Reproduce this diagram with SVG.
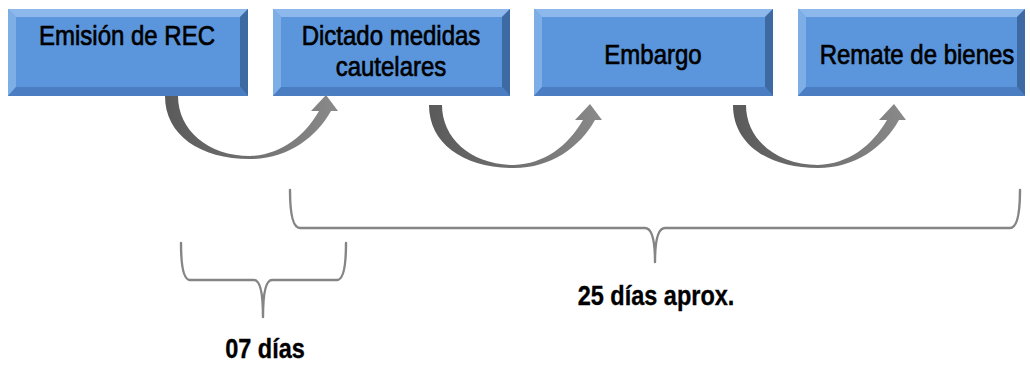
<svg xmlns="http://www.w3.org/2000/svg" xmlns:xlink="http://www.w3.org/1999/xlink" width="1030" height="365" viewBox="0 0 1030 365">
<style>
.face{fill:#5b96dc}
.bt{fill:#8cb8ec}
.bl{fill:#7eaee6}
.br{fill:#3e6aa3}
.bb{fill:#4a7dc2}
.lbl{font-family:"Liberation Sans",Arial,sans-serif;font-size:24px;fill:#000;text-anchor:middle;stroke:#000;stroke-width:0.6}
.big{font-family:"Liberation Sans",Arial,sans-serif;font-size:23.5px;font-weight:bold;fill:#000;text-anchor:middle;stroke:#000;stroke-width:0.3}
.brace{fill:none;stroke:#858585;stroke-width:2.4;stroke-linecap:round;stroke-linejoin:round}
.arrow{fill:url(#ag)}
</style>
<defs>
<linearGradient id="ag" x1="0" y1="0" x2="1" y2="0">
<stop offset="0" stop-color="#5a5a5a"/>
<stop offset="0.5" stop-color="#707070"/>
<stop offset="1" stop-color="#8a8a8a"/>
</linearGradient>
<path id="carrow" class="arrow" d="M165,96 C165,135 200,159 250,159 C287,159 316,138 331,111 L338,111 L326,95 L311,111 L319,111 C304,137 280,155 250,156 C208,156 178,130 178,96 Z"/>
</defs>
<rect width="1030" height="365" fill="#ffffff"/>

<g id="node-emision">
<rect class="face" x="8" y="9" width="240" height="87"/>
<polygon class="bt" points="8,9 248,9 240,17 16,17"/>
<polygon class="bl" points="8,9 16,17 16,87 8,96"/>
<polygon class="br" points="248,9 248,96 240,87 240,17"/>
<polygon class="bb" points="8,96 16,87 240,87 248,96"/>
<text class="lbl" transform="translate(127,45) scale(1,1.18)">Emisión de REC</text>
</g>

<g id="node-dictado">
<rect class="face" x="273" y="9" width="237" height="87"/>
<polygon class="bt" points="273,9 510,9 502,17 281,17"/>
<polygon class="bl" points="273,9 281,17 281,87 273,96"/>
<polygon class="br" points="510,9 510,96 502,87 502,17"/>
<polygon class="bb" points="273,96 281,87 502,87 510,96"/>
<text class="lbl" transform="translate(391,45) scale(1,1.18)">Dictado medidas</text>
<text class="lbl" transform="translate(391,76) scale(1,1.18)">cautelares</text>
</g>

<g id="node-embargo">
<rect class="face" x="534" y="9" width="239" height="87"/>
<polygon class="bt" points="534,9 773,9 765,17 542,17"/>
<polygon class="bl" points="534,9 542,17 542,87 534,96"/>
<polygon class="br" points="773,9 773,96 765,87 765,17"/>
<polygon class="bb" points="534,96 542,87 765,87 773,96"/>
<text class="lbl" transform="translate(653,64) scale(1,1.18)">Embargo</text>
</g>

<g id="node-remate">
<rect class="face" x="798" y="9" width="227" height="87"/>
<polygon class="bt" points="798,9 1025,9 1017,17 806,17"/>
<polygon class="bl" points="798,9 806,17 806,87 798,96"/>
<polygon class="br" points="1025,9 1025,96 1017,87 1017,17"/>
<polygon class="bb" points="798,96 806,87 1017,87 1025,96"/>
<text class="lbl" transform="translate(917,64) scale(1,1.18)">Remate de bienes</text>
</g>

<g id="connectors">
<use xlink:href="#carrow" href="#carrow"/>
<use xlink:href="#carrow" href="#carrow" transform="translate(264,9)"/>
<use xlink:href="#carrow" href="#carrow" transform="translate(568,9)"/>
</g>

<g id="brace-25">
<path class="brace" d="M290,190 Q290,228 300,228 L645,228 Q655,228 655,262 M1020,190 Q1020,228 1010,228 L665,228 Q655,228 655,262"/>
<text class="big" transform="translate(656,305) scale(1,1.2)">25 días aprox.</text>
</g>

<g id="brace-07">
<path class="brace" d="M181,243 Q181,280 190,280 L254,280 Q263,280 263,317 M346,243 Q346,280 337,280 L272,280 Q263,280 263,317"/>
<text class="big" transform="translate(265,358) scale(1,1.2)">07 días</text>
</g>
</svg>
